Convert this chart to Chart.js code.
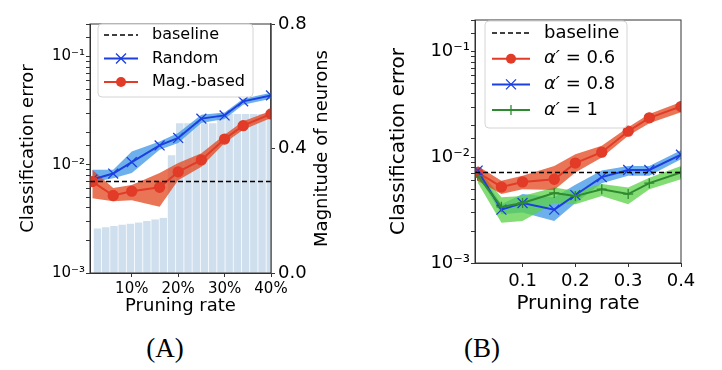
<!DOCTYPE html>
<html>
<head>
<meta charset="utf-8">
<script src="https://cdn.jsdelivr.net/npm/chart.js@4.4.1/dist/chart.umd.min.js"></script>
<style>
  body { margin: 0; background: #fff; width: 722px; height: 370px; position: relative; overflow: hidden; }
  .panel { position: absolute; top: 0; height: 325px; }
  #wrapA { left: 0; width: 345px; }
  #wrapB { left: 360px; width: 362px; }
  .cap { position: absolute; top: 333px; width: 80px; text-align: center; line-height: 30px;
         font-family: 'Liberation Serif', serif; font-size: 27px; color: #000; }
</style>
</head>
<body>
<div class="panel" id="wrapA"><canvas id="chartA"></canvas></div>
<div class="panel" id="wrapB"><canvas id="chartB"></canvas></div>
<div class="cap" style="left:125px">(A)</div>
<div class="cap" style="left:442px">(B)</div>
<script>
    // pruning rates (x), shared by both panels
    const prune = [0.015, 0.06, 0.1, 0.16, 0.2, 0.25, 0.3, 0.34, 0.4];
    const xMin = 0.01, xMax = 0.4;
    const xTicks = [0.1, 0.2, 0.3, 0.4];

    // panel A
    const baseA = 0.0070;
    const randomErr = [0.0073, 0.0083, 0.0106, 0.0151, 0.0177, 0.0267, 0.0286, 0.0386, 0.0438];
    const randomHi  = [0.0090, 0.0090, 0.0133, 0.0164, 0.0197, 0.0290, 0.0305, 0.0408, 0.0462];
    const randomLo  = [0.0069, 0.0075, 0.0084, 0.0138, 0.0159, 0.0243, 0.0265, 0.0358, 0.0408];
    const magErr = [0.0070, 0.0052, 0.0057, 0.0062, 0.0086, 0.0111, 0.0173, 0.0230, 0.0295];
    const magHi  = [0.0090, 0.0061, 0.0065, 0.0084, 0.0104, 0.0128, 0.0189, 0.0252, 0.0316];
    const magLo  = [0.0049, 0.0046, 0.0047, 0.0041, 0.0072, 0.0096, 0.0159, 0.0211, 0.0271];
    // magnitude of neurons (right axis bars)
    const magnitude = [0.142, 0.146, 0.150, 0.154, 0.157, 0.161, 0.166, 0.171, 0.176, 0.377, 0.48,
                       0.48, 0.48, 0.48, 0.48, 0.51, 0.51, 0.51, 0.51, 0.51, 0.51, 0.51];
    const magTicks = [0, 0.4, 0.8];

    // panel B
    const baseB = 0.0072;
    const a06   = [0.0072, 0.00525, 0.00586, 0.00621, 0.00883, 0.0112, 0.0177, 0.0237, 0.0303];
    const a06Hi = [0.0083, 0.0060, 0.0067, 0.0083, 0.0107, 0.0129, 0.0193, 0.0258, 0.0334];
    const a06Lo = [0.0060, 0.0045, 0.0050, 0.0049, 0.0072, 0.0100, 0.0160, 0.0211, 0.0268];
    const a08   = [0.0075, 0.0032, 0.0037, 0.0032, 0.0044, 0.0065, 0.0076, 0.0076, 0.0106];
    const a08Hi = [0.0077, 0.0036, 0.0045, 0.0042, 0.0055, 0.0075, 0.0083, 0.0083, 0.0117];
    const a08Lo = [0.0069, 0.0029, 0.0030, 0.0025, 0.0037, 0.0057, 0.0067, 0.0067, 0.0096];
    const a1    = [0.0067, 0.0034, 0.0037, 0.0046, 0.0043, 0.0050, 0.0045, 0.0057, 0.0072];
    const a1Hi  = [0.0078, 0.0042, 0.0043, 0.0052, 0.0048, 0.0056, 0.0052, 0.0064, 0.0083];
    const a1Lo  = [0.0058, 0.0024, 0.0025, 0.0037, 0.0036, 0.0043, 0.0036, 0.0050, 0.0062];

    const BLUE = '#1c3fe0', RED = '#e23b28', GREEN = '#2f8a2f';
    const BLUE_BAND = 'rgba(60,150,230,0.75)';
    const RED_BAND = 'rgba(225,70,30,0.75)';
    const GREEN_BAND = 'rgba(90,210,70,0.75)';

    Chart.defaults.font.family = "'DejaVu Sans', sans-serif";
    Chart.defaults.color = '#000';

    const pts = arr => prune.map((x, i) => ({x: x, y: arr[i]}));
    const sup = {'-3': '\u207B\u00B3', '-2': '\u207B\u00B2', '-1': '\u207B\u00B9'};
    const logLabel = v => {
        const e = Math.log10(v);
        if (Math.abs(e - Math.round(e)) > 1e-6) return '';
        return '10' + sup[String(Math.round(e))];
    };

    function drawMarker(ctx, m, x, y, color) {
        ctx.strokeStyle = color;
        ctx.fillStyle = color;
        if (m === 'circle') {
            ctx.beginPath(); ctx.arc(x, y, 5, 0, Math.PI * 2); ctx.fill();
        } else if (m === 'x') {
            ctx.lineWidth = 1.3;
            ctx.beginPath();
            ctx.moveTo(x - 5, y - 5); ctx.lineTo(x + 5, y + 5);
            ctx.moveTo(x - 5, y + 5); ctx.lineTo(x + 5, y - 5);
            ctx.stroke();
        } else if (m === '+') {
            ctx.lineWidth = 1.3;
            ctx.beginPath();
            ctx.moveTo(x - 5, y); ctx.lineTo(x + 5, y);
            ctx.moveTo(x, y - 5); ctx.lineTo(x, y + 5);
            ctx.stroke();
        }
    }

    // matplotlib style legend drawn inside the axes
    function makeLegend(cfg) {
        return {
            id: 'boxLegend',
            afterDraw(chart) {
                const {ctx} = chart;
                ctx.save();
                ctx.fillStyle = 'rgba(255,255,255,0.85)';
                ctx.strokeStyle = '#d4d4d4';
                ctx.lineWidth = 1;
                ctx.beginPath();
                ctx.roundRect(cfg.x, cfg.y, cfg.w, cfg.h, 4);
                ctx.fill();
                ctx.stroke();
                cfg.items.forEach((it, i) => {
                    const y = cfg.first + i * cfg.rowH;
                    ctx.strokeStyle = it.color;
                    ctx.lineWidth = it.width;
                    ctx.setLineDash(it.dash || []);
                    ctx.beginPath();
                    ctx.moveTo(cfg.x0, y);
                    ctx.lineTo(cfg.x1, y);
                    ctx.stroke();
                    ctx.setLineDash([]);
                    drawMarker(ctx, it.marker, (cfg.x0 + cfg.x1) / 2, y, it.color);
                    ctx.fillStyle = '#000';
                    ctx.textBaseline = 'middle';
                    ctx.textAlign = 'left';
                    let tx = cfg.tx;
                    if (it.italic) {
                        ctx.font = 'italic ' + cfg.size + "px 'DejaVu Sans'";
                        ctx.fillText(it.italic, tx, y);
                        tx += ctx.measureText(it.italic).width;
                    }
                    ctx.font = cfg.size + "px 'DejaVu Sans'";
                    ctx.fillText(it.text, tx, y);
                });
                ctx.restore();
            }
        };
    }

    const frame = {
        id: 'frame',
        afterDatasetsDraw(chart) {
            const {ctx, chartArea: a} = chart;
            ctx.save();
            ctx.strokeStyle = '#333';
            ctx.lineWidth = 1;
            ctx.strokeRect(a.left, a.top, a.right - a.left, a.bottom - a.top);
            ctx.restore();
        }
    };

    // right axis title, read bottom to top like matplotlib
    const rightTitle = {
        id: 'rightTitle',
        afterDraw(chart) {
            const {ctx, chartArea: a} = chart;
            ctx.save();
            ctx.translate(322, (a.top + a.bottom) / 2);
            ctx.rotate(-Math.PI / 2);
            ctx.font = "18px 'DejaVu Sans'";
            ctx.fillStyle = '#000';
            ctx.textAlign = 'center';
            ctx.textBaseline = 'middle';
            ctx.fillText('Magnitude of neurons', 0, 0);
            ctx.restore();
        }
    };

    const line = (data, color, style, radius, order) => ({
        type: 'line', data: pts(data), borderColor: color, backgroundColor: color,
        borderWidth: 2, pointStyle: style, pointRadius: radius, pointBorderWidth: 1.3,
        pointBackgroundColor: color, pointBorderColor: color, fill: false, order: order
    });
    const band = (data, color, fill, order) => ({
        type: 'line', data: pts(data), borderWidth: 0, pointRadius: 0,
        backgroundColor: color, fill: fill, order: order
    });
    const baseline = (v) => ({
        type: 'line', data: [{x: xMin, y: v}, {x: xMax, y: v}], borderColor: '#000',
        borderWidth: 1.4, borderDash: [5, 3], pointRadius: 0, fill: false, order: 0
    });

    const tickFont = size => ({size: size});

    new Chart(document.getElementById('chartA'), {
        data: {
            datasets: [
                baseline(baseA),
                line(randomErr, BLUE, 'crossRot', 7, 2),
                line(magErr, RED, 'circle', 5, 1.5),
                band(randomHi, BLUE_BAND, '+1', 4),
                band(randomLo, BLUE_BAND, false, 4),
                band(magHi, RED_BAND, '+1', 3),
                band(magLo, RED_BAND, false, 3),
                {
                    type: 'bar', data: magnitude, xAxisID: 'xb', yAxisID: 'y2',
                    backgroundColor: '#d0dfed', barThickness: 6.8, order: 10
                }
            ]
        },
        plugins: [frame, rightTitle, makeLegend({
            x: 98, y: 24, w: 155, h: 73, first: 35, rowH: 23.5,
            x0: 104, x1: 138, tx: 152, size: 16,
            items: [
                {text: 'baseline', color: '#000', width: 1.4, dash: [5, 3]},
                {text: 'Random', color: BLUE, width: 2, marker: 'x'},
                {text: 'Mag.-based', color: RED, width: 2, marker: 'circle'}
            ]
        })],
        options: {
            responsive: true,
            maintainAspectRatio: false,
            animation: false,
            layout: {padding: {top: 24, left: 0, right: 0, bottom: 0}},
            plugins: {legend: {display: false}, tooltip: {enabled: false}},
            scales: {
                x: {
                    type: 'linear', min: xMin, max: xMax,
                    afterFit(s) { s.height = 52; },
                    afterBuildTicks(s) { s.ticks = xTicks.map(v => ({value: v})); },
                    ticks: {callback: v => Math.round(v * 100) + '%', font: tickFont(15), padding: 3,
                            maxRotation: 0, autoSkip: false, color: '#000'},
                    grid: {drawOnChartArea: false, tickLength: 4, tickColor: '#333'},
                    border: {color: '#333'},
                    title: {display: true, text: 'Pruning rate', font: {size: 18}, color: '#000', padding: {bottom: 8}}
                },
                xb: {
                    type: 'category', labels: magnitude.map((v, i) => String(i + 1)),
                    display: false, offset: true
                },
                y: {
                    type: 'logarithmic', position: 'left', min: 0.001, max: 0.2,
                    afterFit(s) { s.width = 90; },
                    ticks: {callback: logLabel, autoSkip: false, font: tickFont(15), padding: 1, color: '#000'},
                    grid: {drawOnChartArea: false, tickLength: 4, tickColor: '#333'},
                    border: {color: '#333'},
                    title: {display: true, text: 'Classification error', font: {size: 18}, color: '#000', padding: {top: 18}}
                },
                y2: {
                    type: 'linear', position: 'right', min: 0, max: 0.8,
                    afterFit(s) { s.width = 74; },
                    afterBuildTicks(s) { s.ticks = magTicks.map(v => ({value: v})); },
                    ticks: {callback: v => v.toFixed(1), font: tickFont(18), padding: 3, color: '#000'},
                    grid: {drawOnChartArea: false, tickLength: 4, tickColor: '#333'},
                    border: {color: '#555', width: 1.5},
                    title: {display: false}
                }
            }
        }
    });

    new Chart(document.getElementById('chartB'), {
        data: {
            datasets: [
                baseline(baseB),
                line(a06, RED, 'circle', 5, 2),
                line(a08, BLUE, 'crossRot', 7, 1.5),
                line(a1, GREEN, 'cross', 5, 1),
                band(a06Hi, RED_BAND, '+1', 3),
                band(a06Lo, RED_BAND, false, 3),
                band(a08Hi, BLUE_BAND, '+1', 5),
                band(a08Lo, BLUE_BAND, false, 5),
                band(a1Hi, GREEN_BAND, '+1', 4),
                band(a1Lo, GREEN_BAND, false, 4)
            ]
        },
        plugins: [frame, makeLegend({
            x: 125, y: 21, w: 142, h: 107, first: 33, rowH: 25.7,
            x0: 132, x1: 170, tx: 184, size: 18,
            items: [
                {text: 'baseline', color: '#000', width: 1.4, dash: [5, 3]},
                {italic: '\u03B1\u2032', text: ' = 0.6', color: RED, width: 2, marker: 'circle'},
                {italic: '\u03B1\u2032', text: ' = 0.8', color: BLUE, width: 2, marker: 'x'},
                {italic: '\u03B1\u2032', text: ' = 1', color: GREEN, width: 2, marker: '+'}
            ]
        })],
        options: {
            responsive: true,
            maintainAspectRatio: false,
            animation: false,
            layout: {padding: {top: 20, left: 0, right: 41, bottom: 0}},
            plugins: {legend: {display: false}, tooltip: {enabled: false}},
            scales: {
                x: {
                    type: 'linear', min: xMin, max: xMax,
                    afterFit(s) { s.height = 62; },
                    afterBuildTicks(s) { s.ticks = xTicks.map(v => ({value: v})); },
                    ticks: {callback: v => v.toFixed(1), font: tickFont(18), padding: 4,
                            maxRotation: 0, autoSkip: false, color: '#000'},
                    grid: {drawOnChartArea: false, tickLength: 4, tickColor: '#333'},
                    border: {color: '#333'},
                    title: {display: true, text: 'Pruning rate', font: {size: 20}, color: '#000', padding: {bottom: 9}}
                },
                y: {
                    type: 'logarithmic', position: 'left', min: 0.001, max: 0.2,
                    afterFit(s) { s.width = 115; },
                    ticks: {callback: logLabel, autoSkip: false, font: tickFont(18), padding: 1, color: '#000'},
                    grid: {drawOnChartArea: false, tickLength: 4, tickColor: '#333'},
                    border: {color: '#333'},
                    title: {display: true, text: 'Classification error', font: {size: 20}, color: '#000', padding: {top: 27}}
                }
            }
        }
    });
</script>
</body>
</html>
